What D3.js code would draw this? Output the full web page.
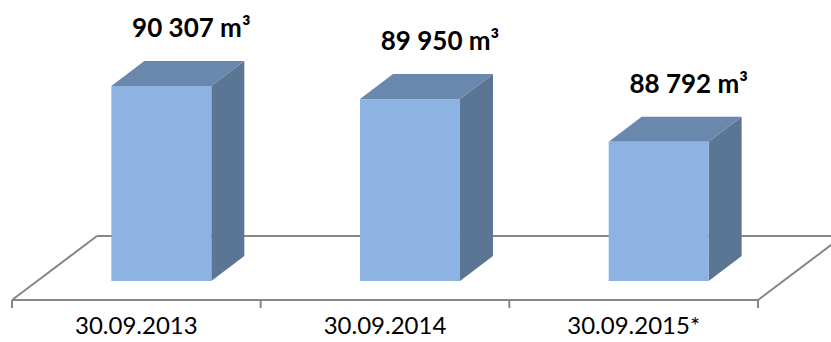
<!DOCTYPE html>
<html>
<head>
<meta charset="utf-8">
<script src="https://cdn.jsdelivr.net/npm/d3@7"></script>
<style>
  body { margin: 0; background: #fff; }
  svg { display: block; }
</style>
</head>
<body>
<div id="chart"></div>
<script>
// data
var categories = ["30.09.2013", "30.09.2014", "30.09.2015*"];
var values = [90307, 89950, 88792];
var valueLabels = ["90 307 m³", "89 950 m³", "88 792 m³"];

var width = 831, height = 342;

// floor front edge + 3D offsets
var floorLeft = 12, floorRight = 758, floorFront = 300;
var floorDx = 85, floorDy = -64;     // front -> back of floor
var barShiftX = 25, barShiftY = -19; // bars sit in mid depth
var depthX = 33, depthY = -25;       // bar depth

var x = d3.scaleBand()
    .domain(categories)
    .range([floorLeft, floorRight]);

var barW = x.bandwidth() * 0.402;

var y = d3.scaleLinear()
    .domain([85000, 92000])
    .range([floorFront + barShiftY, floorFront + barShiftY - 7000 * (195 / 5307)]);

var svg = d3.select("#chart").append("svg")
    .attr("width", width)
    .attr("height", height);

var grey = "#868686";

// back edge of floor (behind bars)
svg.append("line")
    .attr("x1", floorLeft + floorDx).attr("y1", floorFront + floorDy)
    .attr("x2", floorRight + floorDx).attr("y2", floorFront + floorDy)
    .attr("stroke", grey).attr("stroke-width", 2);

svg.append("line")
    .attr("x1", floorLeft).attr("y1", floorFront)
    .attr("x2", floorLeft + floorDx).attr("y2", floorFront + floorDy)
    .attr("stroke", grey).attr("stroke-width", 2);

svg.append("line")
    .attr("x1", floorRight).attr("y1", floorFront)
    .attr("x2", floorRight + floorDx).attr("y2", floorFront + floorDy)
    .attr("stroke", grey).attr("stroke-width", 2);

// bars
var bars = svg.selectAll("g.bar")
    .data(values)
    .enter().append("g")
    .attr("class", "bar");

function bx(d, i) { return x(categories[i]) + (x.bandwidth() - barW) / 2 + barShiftX; }

bars.append("path") // side
    .attr("fill", "#5b7594")
    .attr("d", function(d, i) {
        var x1 = bx(d, i) + barW, yt = y(d), yb = y(85000);
        return "M" + x1 + "," + yt + "L" + (x1 + depthX) + "," + (yt + depthY) +
            "L" + (x1 + depthX) + "," + (yb + depthY) + "L" + x1 + "," + yb + "Z";
    });

bars.append("path") // top
    .attr("fill", "#6a88ad")
    .attr("d", function(d, i) {
        var x0 = bx(d, i), yt = y(d);
        return "M" + x0 + "," + yt + "L" + (x0 + depthX) + "," + (yt + depthY) +
            "L" + (x0 + barW + depthX) + "," + (yt + depthY) + "L" + (x0 + barW) + "," + yt + "Z";
    });

bars.append("rect") // front
    .attr("fill", "#8db3e2")
    .attr("x", bx)
    .attr("y", function(d) { return y(d); })
    .attr("width", barW)
    .attr("height", function(d) { return y(85000) - y(d); });

// value labels
svg.selectAll("text.value")
    .data(values)
    .enter().append("text")
    .attr("class", "value")
    .attr("x", function(d, i) { return bx(d, i) + barW / 2 + 30; })
    .attr("y", function(d) { return y(d) + depthY - 24; })
    .attr("text-anchor", "middle")
    .style("font-family", "Lato, sans-serif")
    .style("font-weight", "bold")
    .style("font-size", "26px")
    .text(function(d, i) { return valueLabels[i]; });

// front edge of floor + axis
var xAxis = d3.axisBottom(x).tickSize(0).tickPadding(17);
var axisG = svg.append("g")
    .attr("transform", "translate(0," + floorFront + ")")
    .call(xAxis);
axisG.select(".domain").remove();
axisG.selectAll("text")
    .style("font-family", "Lato, sans-serif")
    .style("font-size", "24px")
    .attr("fill", "#000");

svg.append("line")
    .attr("x1", floorLeft).attr("y1", floorFront)
    .attr("x2", floorRight).attr("y2", floorFront)
    .attr("stroke", grey).attr("stroke-width", 2);

// band boundaries ticks
var boundaries = categories.map(function(c) { return x(c); }).concat([floorRight]);
svg.selectAll("line.tick-b")
    .data(boundaries)
    .enter().append("line")
    .attr("class", "tick-b")
    .attr("x1", function(d) { return d; }).attr("x2", function(d) { return d; })
    .attr("y1", floorFront).attr("y2", floorFront + 8)
    .attr("stroke", grey).attr("stroke-width", 2);
</script>
</body>
</html>
